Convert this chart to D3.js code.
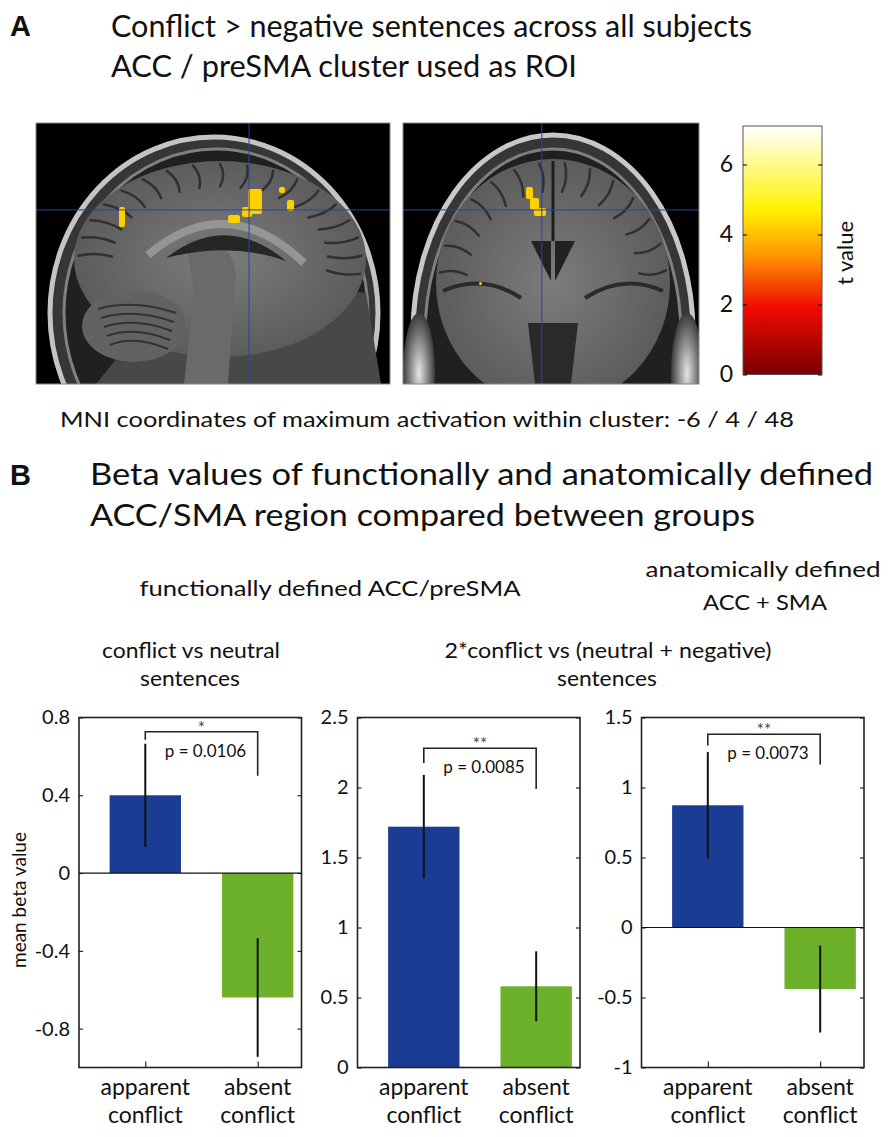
<!DOCTYPE html>
<html lang="en">
<head>
<meta charset="UTF-8">
<title>ACC / preSMA beta values</title>
<script src="https://cdn.jsdelivr.net/npm/d3@7"></script>
<style>
  body { margin: 0; background: #fff; }
  svg text { font-family: Lato, "Open Sans", sans-serif; fill: #111; }
</style>
</head>
<body>
<div id="chart"></div>
<script>
const width = 892, height = 1137;

// ---- data ----
const groups = [["apparent", "conflict"], ["absent", "conflict"]];
const meansFunc = [0.40, -0.64];        // conflict vs neutral
const errFunc = [0.265, 0.305];
const meansFunc2 = [1.72, 0.58];        // 2*conflict vs (neutral + negative)
const errFunc2 = [0.37, 0.25];
const meansAnat = [0.873, -0.44];       // anatomical ACC + SMA
const errAnat = [0.38, 0.31];
const pLabels = ["p = 0.0106", "p = 0.0085", "p = 0.0073"];
const starLabels = ["*", "**", "**"];
const yDomains = [[-1, 0.8], [0, 2.5], [-1, 1.5]];
const yTicks = [[-0.8, -0.4, 0, 0.4, 0.8], [0, 0.5, 1, 1.5, 2, 2.5], [-1, -0.5, 0, 0.5, 1, 1.5]];
// bracket: top, end of left leg, end of right leg (data units)
const brackets = [[0.727, 0.686, 0.50], [2.28, 2.175, 1.99], [1.38, 1.30, 1.165]];

// t value colour bar
const tTicks = [0, 2, 4, 6];
const tMax = 7.1;
const hotStops = [0, 1.9, 3.4, 4.7, 7.1];
const hotColors = ["#7a0000", "#f00a00", "#ff9500", "#fff200", "#ffffff"];

// ---- layout ----
const panelLeft = [79, 357.5, 641.5];
const panelW = 222.5;
const plotTop = 717.5, plotBottom = 1067.5;
const barWidth = 0.635;
const barColors = ["#1b3c93", "#6db02a"];

const svg = d3.select("#chart")
    .append("svg")
    .attr("width", width)
    .attr("height", height);

const defs = svg.append("defs");

function fit(sel, len) {
    sel.attr("textLength", len).attr("lengthAdjust", "spacingAndGlyphs");
}

// ---- headings ----
svg.append("text").attr("x", 10).attr("y", 36)
    .style("font-family", "'Liberation Sans', Arial, sans-serif")
    .attr("font-weight", "bold").attr("font-size", 29).text("A");
svg.append("text").attr("x", 111).attr("y", 37).attr("font-size", 30)
    .text("Conflict > negative sentences across all subjects").call(fit, 641);
svg.append("text").attr("x", 111).attr("y", 77).attr("font-size", 30)
    .text("ACC / preSMA cluster used as ROI").call(fit, 466);
svg.append("text").attr("x", 60).attr("y", 427).attr("font-size", 22)
    .text("MNI coordinates of maximum activation within cluster: -6 / 4 / 48").call(fit, 734);

svg.append("text").attr("x", 10).attr("y", 485)
    .style("font-family", "'Liberation Sans', Arial, sans-serif")
    .attr("font-weight", "bold").attr("font-size", 29).text("B");
svg.append("text").attr("x", 90).attr("y", 485).attr("font-size", 31)
    .text("Beta values of functionally and anatomically defined").call(fit, 783);
svg.append("text").attr("x", 90).attr("y", 526).attr("font-size", 31)
    .text("ACC/SMA region compared between groups").call(fit, 665);

const sub = [
    {t: "functionally defined ACC/preSMA", x: 330, y: 596, w: 381},
    {t: "anatomically defined", x: 763, y: 577, w: 235},
    {t: "ACC + SMA", x: 765, y: 610, w: 124},
    {t: "conflict vs neutral", x: 191, y: 658, w: 178},
    {t: "sentences", x: 190, y: 686, w: 100},
    {t: "2*conflict vs (neutral + negative)", x: 608, y: 658, w: 327},
    {t: "sentences", x: 607, y: 686, w: 100}
];
svg.selectAll("text.sub").data(sub).join("text")
    .attr("class", "sub")
    .attr("x", d => d.x).attr("y", d => d.y)
    .attr("text-anchor", "middle").attr("font-size", 22)
    .text(d => d.t)
    .each(function (d) { d3.select(this).call(fit, d.w); });

// ---- brain slices (stand-ins for the MRI images) ----
const sagBox = {x: 36, y: 123, w: 354, h: 261, cx: 0.602, cy: 0.333};
const corBox = {x: 403, y: 123, w: 296, h: 261, cx: 0.469, cy: 0.333};
const sagBlobs = [[83, 84, 6, 20], [192, 92, 12, 8], [212, 66, 14, 25], [206, 84, 10, 10], [243, 64, 6, 6], [251, 77, 7, 11]];
const corBlobs = [[123, 64, 7, 12], [127, 75, 9, 12], [131, 85, 12, 8], [76, 159, 3, 3]];

const brainGrad = defs.append("radialGradient").attr("id", "brainGrad");
brainGrad.append("stop").attr("offset", 0).attr("stop-color", "#7c7c7c");
brainGrad.append("stop").attr("offset", 1).attr("stop-color", "#5c5c5c");
const cheekGrad = defs.append("radialGradient").attr("id", "cheekGrad");
cheekGrad.append("stop").attr("offset", 0).attr("stop-color", "#e6e6e6");
cheekGrad.append("stop").attr("offset", 1).attr("stop-color", "#3a3a3a");

function slice(box, id) {
    defs.append("clipPath").attr("id", id)
        .append("rect").attr("width", box.w).attr("height", box.h);
    const g = svg.append("g").attr("transform", `translate(${box.x},${box.y})`);
    g.append("rect").attr("width", box.w).attr("height", box.h).attr("fill", "#000");
    const inner = g.append("g").attr("clip-path", `url(#${id})`);
    return {g, inner};
}

function sulci(g, cx, cy, rx, ry, a0, a1, step) {
    d3.range(a0, a1, step).forEach(function (a) {
        const r = a * Math.PI / 180;
        g.append("path")
            .attr("d", `M${cx + rx * 0.97 * Math.cos(r)},${cy + ry * 0.97 * Math.sin(r)}
                        Q${cx + rx * 0.86 * Math.cos(r + 0.05)},${cy + ry * 0.86 * Math.sin(r + 0.05)}
                         ${cx + rx * 0.74 * Math.cos(r)},${cy + ry * 0.74 * Math.sin(r)}`)
            .attr("fill", "none").attr("stroke", "#303030")
            .attr("stroke-width", 2.5).attr("stroke-linecap", "round");
    });
}

// sagittal
{
    const {g, inner} = slice(sagBox, "clipSag");
    inner.append("ellipse").attr("cx", 178).attr("cy", 190).attr("rx", 164).attr("ry", 176)
        .attr("fill", "#363636").attr("stroke", "#c4c4c4").attr("stroke-width", 5);
    inner.append("ellipse").attr("cx", 180).attr("cy", 190).attr("rx", 152).attr("ry", 164)
        .attr("fill", "#202020").attr("stroke", "#808080").attr("stroke-width", 3);
    inner.append("path").attr("d", "M150,150 L330,170 L345,261 L60,261 Z").attr("fill", "#484848");
    inner.append("ellipse").attr("cx", 184).attr("cy", 136).attr("rx", 146).attr("ry", 98)
        .attr("fill", "url(#brainGrad)");
    sulci(inner, 184, 136, 146, 98, -178, 10, 11);
    inner.append("ellipse").attr("cx", 98).attr("cy", 203).attr("rx", 52).attr("ry", 36)
        .attr("fill", "#626262");
    d3.range(0, 5).forEach(function (k) {
        inner.append("path").attr("d", `M${62 + k * 3},${186 + k * 9} Q98,${176 + k * 9} ${140 - k * 2},${190 + k * 9}`)
            .attr("fill", "none").attr("stroke", "#333").attr("stroke-width", 2);
    });
    inner.append("path").attr("d", "M150,118 C175,112 195,120 200,150 L192,261 L148,261 L158,170 Z")
        .attr("fill", "#6a6a6a");
    inner.append("path").attr("d", "M112,132 Q190,66 268,140")
        .attr("fill", "none").attr("stroke", "#959595").attr("stroke-width", 8);
    inner.append("path").attr("d", "M130,135 Q190,88 250,138 Q195,118 130,135 Z").attr("fill", "#262626");
    inner.selectAll("rect.blob").data(sagBlobs).join("rect").attr("class", "blob")
        .attr("x", d => d[0]).attr("y", d => d[1]).attr("width", d => d[2]).attr("height", d => d[3])
        .attr("rx", 2).attr("fill", "#ffd000");
    g.append("line").attr("x1", sagBox.cx * sagBox.w).attr("x2", sagBox.cx * sagBox.w)
        .attr("y1", 0).attr("y2", sagBox.h).attr("stroke", "#2040c8").attr("stroke-width", 1);
    g.append("line").attr("x1", 0).attr("x2", sagBox.w)
        .attr("y1", sagBox.cy * sagBox.h).attr("y2", sagBox.cy * sagBox.h).attr("stroke", "#2040c8").attr("stroke-width", 1);
    g.append("rect").attr("width", sagBox.w).attr("height", sagBox.h)
        .attr("fill", "none").attr("stroke", "#888").attr("stroke-width", 1);
}

// coronal
{
    const {g, inner} = slice(corBox, "clipCor");
    inner.append("ellipse").attr("cx", 150).attr("cy", 210).attr("rx", 140).attr("ry", 198)
        .attr("fill", "#363636").attr("stroke", "#c8c8c8").attr("stroke-width", 5);
    inner.append("ellipse").attr("cx", 150).attr("cy", 212).attr("rx", 128).attr("ry", 186)
        .attr("fill", "#202020").attr("stroke", "#808080").attr("stroke-width", 3);
    inner.append("ellipse").attr("cx", 16).attr("cy", 250).attr("rx", 16).attr("ry", 60).attr("fill", "url(#cheekGrad)");
    inner.append("ellipse").attr("cx", 284).attr("cy", 250).attr("rx", 16).attr("ry", 60).attr("fill", "url(#cheekGrad)");
    inner.append("ellipse").attr("cx", 150).attr("cy", 160).attr("rx", 117).attr("ry", 124)
        .attr("fill", "url(#brainGrad)");
    sulci(inner, 150, 160, 117, 124, -175, 0, 13);
    inner.append("line").attr("x1", 150).attr("x2", 150).attr("y1", 38).attr("y2", 118)
        .attr("stroke", "#1e1e1e").attr("stroke-width", 3);
    inner.append("path").attr("d", "M128,118 L148,118 L148,158 Z").attr("fill", "#222");
    inner.append("path").attr("d", "M172,118 L152,118 L152,158 Z").attr("fill", "#222");
    inner.append("path").attr("d", "M40,168 Q80,150 118,175").attr("fill", "none").attr("stroke", "#2a2a2a").attr("stroke-width", 4);
    inner.append("path").attr("d", "M260,168 Q220,150 182,175").attr("fill", "none").attr("stroke", "#2a2a2a").attr("stroke-width", 4);
    inner.append("path").attr("d", "M125,200 L175,200 L168,261 L132,261 Z").attr("fill", "#2a2a2a");
    inner.selectAll("rect.blob").data(corBlobs).join("rect").attr("class", "blob")
        .attr("x", d => d[0]).attr("y", d => d[1]).attr("width", d => d[2]).attr("height", d => d[3])
        .attr("rx", 2).attr("fill", "#ffd000");
    g.append("line").attr("x1", corBox.cx * corBox.w).attr("x2", corBox.cx * corBox.w)
        .attr("y1", 0).attr("y2", corBox.h).attr("stroke", "#2040c8").attr("stroke-width", 1);
    g.append("line").attr("x1", 0).attr("x2", corBox.w)
        .attr("y1", corBox.cy * corBox.h).attr("y2", corBox.cy * corBox.h).attr("stroke", "#2040c8").attr("stroke-width", 1);
    g.append("rect").attr("width", corBox.w).attr("height", corBox.h)
        .attr("fill", "none").attr("stroke", "#888").attr("stroke-width", 1);
}

// ---- colour bar ----
const cbLeft = 743, cbW = 79;
const cbY = d3.scaleLinear().domain([0, tMax]).range([374.5, 126]);
const hot = defs.append("linearGradient").attr("id", "hot")
    .attr("x1", 0).attr("y1", 1).attr("x2", 0).attr("y2", 0);
hot.selectAll("stop").data(hotStops).join("stop")
    .attr("offset", d => d / tMax)
    .attr("stop-color", (d, i) => hotColors[i]);
svg.append("rect").attr("x", cbLeft).attr("y", cbY(tMax))
    .attr("width", cbW).attr("height", cbY(0) - cbY(tMax))
    .attr("fill", "url(#hot)").attr("stroke", "#555").attr("stroke-width", 1);
svg.append("g").attr("transform", `translate(${cbLeft},0)`)
    .call(d3.axisLeft(cbY).tickValues(tTicks).tickSize(-4).tickPadding(10).tickFormat(d => String(d)))
    .attr("font-size", 23).attr("font-family", null)
    .call(a => a.select(".domain").remove());
svg.append("g").attr("transform", `translate(${cbLeft + cbW},0)`)
    .call(d3.axisRight(cbY).tickValues(tTicks).tickSize(-4).tickFormat(""))
    .call(a => a.select(".domain").remove());
svg.append("text").attr("transform", "translate(853,253) rotate(-90)")
    .attr("text-anchor", "middle").attr("font-size", 22).text("t value");

// ---- bar panels ----
const panelMeans = [meansFunc, meansFunc2, meansAnat];
const panelErrs = [errFunc, errFunc2, errAnat];

panelMeans.forEach(function (means, i) {
    const left = panelLeft[i], right = left + panelW;
    const x = d3.scaleLinear().domain([0.41, 2.39]).range([left, right]);
    const y = d3.scaleLinear().domain(yDomains[i]).range([plotBottom, plotTop]);
    const bw = x(barWidth) - x(0);
    const base = Math.max(0, yDomains[i][0]);
    const g = svg.append("g");

    g.append("g").attr("transform", `translate(${left},0)`)
        .call(d3.axisLeft(y).tickValues(yTicks[i]).tickSize(-4).tickPadding(9).tickFormat(d => String(d)))
        .attr("font-size", 20).attr("font-family", null)
        .call(a => a.select(".domain").remove());
    g.append("g").attr("transform", `translate(${right},0)`)
        .call(d3.axisRight(y).tickValues(yTicks[i]).tickSize(-4).tickFormat(""))
        .call(a => a.select(".domain").remove());
    g.append("g").attr("transform", `translate(0,${plotBottom})`)
        .call(d3.axisBottom(x).tickValues([1, 2]).tickSize(-6).tickFormat(""))
        .call(a => a.select(".domain").remove());

    g.selectAll("rect.bar").data(means).join("rect")
        .attr("class", "bar")
        .attr("x", (d, j) => x(j + 1) - bw / 2)
        .attr("width", bw)
        .attr("y", d => Math.min(y(d), y(base)))
        .attr("height", d => Math.abs(y(d) - y(base)))
        .attr("fill", (d, j) => barColors[j]);

    if (yDomains[i][0] < 0) {
        g.append("line").attr("x1", left).attr("x2", right)
            .attr("y1", y(0)).attr("y2", y(0))
            .attr("stroke", "#111").attr("stroke-width", 1.2);
    }

    g.selectAll("line.err").data(means).join("line")
        .attr("class", "err")
        .attr("x1", (d, j) => x(j + 1)).attr("x2", (d, j) => x(j + 1))
        .attr("y1", (d, j) => y(d - panelErrs[i][j]))
        .attr("y2", (d, j) => y(d + panelErrs[i][j]))
        .attr("stroke", "#111").attr("stroke-width", 2);

    const b = brackets[i];
    g.append("path")
        .attr("d", `M${x(1)},${y(b[1])}V${y(b[0])}H${x(2)}V${y(b[2])}`)
        .attr("fill", "none").attr("stroke", "#222").attr("stroke-width", 1.6);
    const mid = (x(1) + x(2)) / 2;
    g.append("text").attr("x", mid).attr("y", y(b[0]) + 2)
        .attr("text-anchor", "middle").attr("font-size", 17).style("fill", "#444")
        .text(starLabels[i]);
    g.append("text").attr("x", mid + 4).attr("y", y(b[0]) + 25)
        .attr("text-anchor", "middle").attr("font-size", 17)
        .text(pLabels[i]);

    g.append("rect").attr("x", left).attr("y", plotTop)
        .attr("width", panelW).attr("height", plotBottom - plotTop)
        .attr("fill", "none").attr("stroke", "#222").attr("stroke-width", 1.6);

    const lab = g.selectAll("text.cat").data(groups).join("text")
        .attr("class", "cat")
        .attr("text-anchor", "middle").attr("font-size", 23);
    lab.append("tspan").attr("x", (d, j) => x(j + 1)).attr("y", plotBottom + 27.5).text(d => d[0]);
    lab.append("tspan").attr("x", (d, j) => x(j + 1)).attr("y", plotBottom + 55.5).text(d => d[1]);
});

svg.append("text").attr("transform", "translate(26,900) rotate(-90)")
    .attr("text-anchor", "middle").attr("font-size", 19).text("mean beta value");
</script>
</body>
</html>
